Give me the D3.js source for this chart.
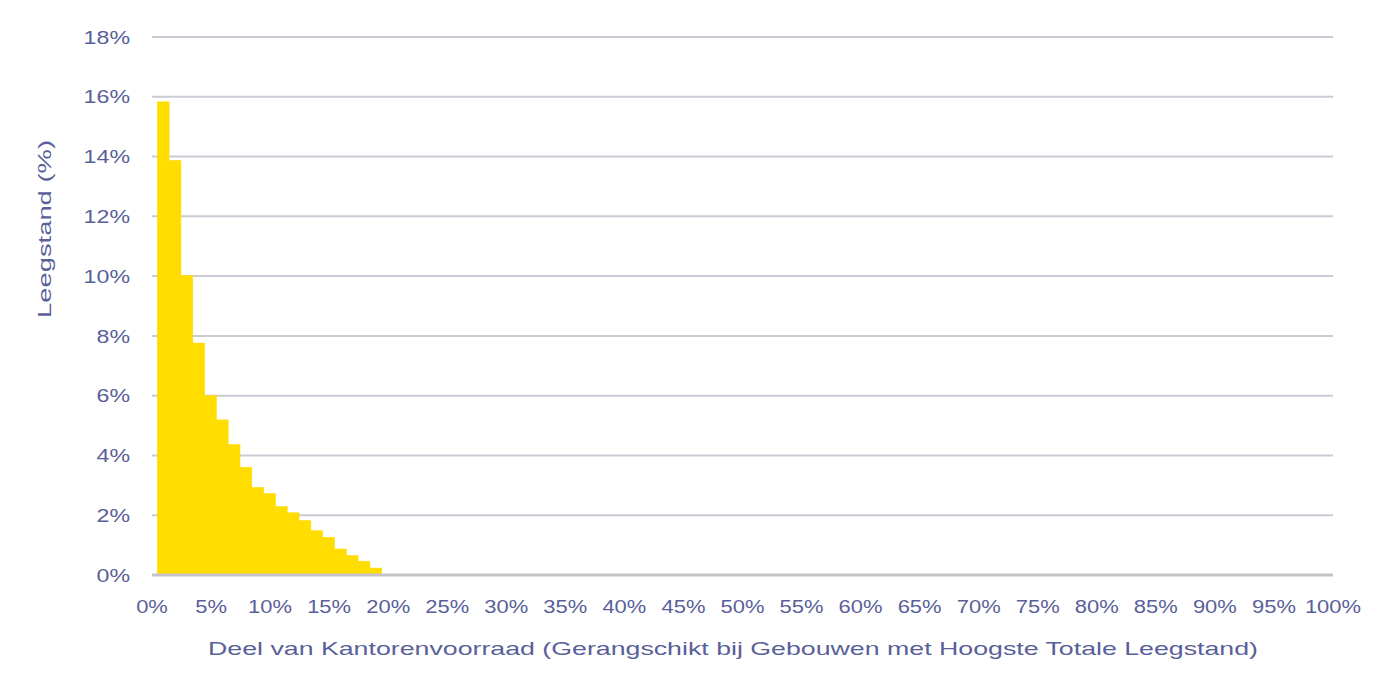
<!DOCTYPE html>
<html>
<head>
<meta charset="utf-8">
<script src="https://cdn.jsdelivr.net/npm/d3@7"></script>
<style>
  html, body { margin: 0; padding: 0; background: #fff; }
  svg { display: block; }
  text { font-family: "Liberation Sans", Arial, sans-serif; fill: #5a5f9a; }
</style>
</head>
<body>
<script>
// data: share of vacancy per 1% slice of office stock (ranked by highest vacancy)
const binStart = [0, 1, 2, 3, 4, 5, 6, 7, 8, 9, 10, 11, 12, 13, 14, 15, 16, 17, 18]
const vacancy = [15.83, 13.87, 10.02, 7.76, 6.0, 5.19, 4.36, 3.6, 2.93, 2.73, 2.29, 2.08, 1.82, 1.48, 1.26, 0.87, 0.65, 0.46, 0.23]
const xTicks = [0, 5, 10, 15, 20, 25, 30, 35, 40, 45, 50, 55, 60, 65, 70, 75, 80, 85, 90, 95, 100]
const yTicks = [0, 2, 4, 6, 8, 10, 12, 14, 16, 18]

const xTitle = "Deel van Kantorenvoorraad  (Gerangschikt bij Gebouwen  met Hoogste  Totale  Leegstand)"
const yTitle = "Leegstand  (%)"

// constants
const width = 1400
const height = 700
const margin = {top: 37, right: 67, bottom: 125, left: 152}
const innerWidth = width - margin.left - margin.right
const innerHeight = height - margin.top - margin.bottom
const stretch = 1.22
const barOffset = 0.45

const svg = d3.select("body").append("svg")
              .attr("width", width)
              .attr("height", height)

const chart = svg.append("g")
                 .attr("transform", `translate(${margin.left}, ${margin.top})`)

// scales
const xScale = d3.scaleLinear()
                 .domain([0, 100])
                 .range([0, 1181])
const yScale = d3.scaleLinear()
                 .domain([0, 18])
                 .range([innerHeight, 0])

// gridlines
chart.append("g")
     .selectAll("line")
     .data(yTicks.filter(d => d > 0))
     .join("line")
     .attr("x1", 0)
     .attr("x2", innerWidth)
     .attr("y1", d => yScale(d))
     .attr("y2", d => yScale(d))
     .attr("stroke", "#cbcbd6")
     .attr("stroke-width", 2)

// bars
chart.append("g")
     .selectAll("rect")
     .data(vacancy)
     .join("rect")
     .attr("x", (d, i) => xScale(binStart[i] + barOffset))
     .attr("y", d => yScale(d))
     .attr("width", xScale(1) - xScale(0))
     .attr("height", d => yScale(0) - yScale(d))
     .attr("fill", "#ffdd00")
     .attr("stroke", "#ffdd00")
     .attr("stroke-width", 0.6)

// baseline
chart.append("line")
     .attr("x1", 0)
     .attr("x2", innerWidth)
     .attr("y1", yScale(0))
     .attr("y2", yScale(0))
     .attr("stroke", "#c4c4c8")
     .attr("stroke-width", 3)

// stretch text horizontally like the reference
function widen(sel) {
    sel.each(function () {
        const len = this.getComputedTextLength()
        d3.select(this).attr("textLength", len * stretch).attr("lengthAdjust", "spacingAndGlyphs")
    })
}

// y axis
chart.append("g")
     .selectAll("text")
     .data(yTicks)
     .join("text")
     .attr("x", -22)
     .attr("y", d => yScale(d))
     .attr("dy", "0.35em")
     .attr("text-anchor", "end")
     .attr("font-size", 19)
     .text(d => d + "%")
     .call(widen)

// x axis
chart.append("g")
     .selectAll("text")
     .data(xTicks)
     .join("text")
     .attr("x", d => xScale(d))
     .attr("y", innerHeight + 38)
     .attr("text-anchor", "middle")
     .attr("font-size", 18)
     .text(d => d + "%")
     .call(widen)

// axis titles
svg.append("text")
   .attr("x", 733)
   .attr("y", 655)
   .attr("text-anchor", "middle")
   .attr("font-size", 19)
   .attr("textLength", 1050)
   .attr("lengthAdjust", "spacingAndGlyphs")
   .text(xTitle)

svg.append("text")
   .attr("transform", "translate(51, 229) rotate(-90)")
   .attr("text-anchor", "middle")
   .attr("font-size", 19)
   .attr("textLength", 178)
   .attr("lengthAdjust", "spacingAndGlyphs")
   .text(yTitle)
</script>
</body>
</html>
